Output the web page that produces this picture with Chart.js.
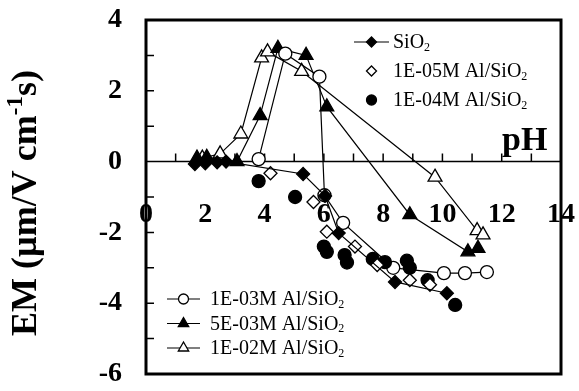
<!DOCTYPE html>
<html>
<head>
<meta charset="utf-8">
<script src="https://cdn.jsdelivr.net/npm/chart.js@4.4.0/dist/chart.umd.min.js"></script>
<style>
  html, body { margin: 0; padding: 0; background: #fff; }
  #wrap { width: 579px; height: 391px; }
</style>
</head>
<body>
<div id="wrap"><canvas id="emChart"></canvas></div>
<script>
// EM vs pH
const sio2PH = [1.65, 2.0, 2.4, 2.7, 5.3, 6.04, 6.5, 8.4, 10.15];
const sio2EM = [-0.07, -0.05, -0.02, 0.0, -0.35, -0.97, -2.02, -3.4, -3.72];

const al1e5PH = [4.2, 5.65, 6.1, 7.05, 7.8, 8.9, 9.58];
const al1e5EM = [-0.33, -1.14, -1.98, -2.4, -2.92, -3.35, -3.48];

const al1e4PH = [3.8, 5.03, 6.0, 6.1, 6.7, 6.78, 7.65, 8.06, 8.8, 8.9, 9.5, 10.43];
const al1e4EM = [-0.55, -1.0, -2.4, -2.55, -2.64, -2.85, -2.75, -2.84, -2.8, -3.0, -3.35, -4.05];

const al1e3PH = [3.8, 4.7, 5.85, 6.02, 6.65, 8.34, 10.05, 10.76, 11.5];
const al1e3EM = [0.07, 3.05, 2.4, -0.95, -1.73, -3.0, -3.15, -3.15, -3.12];

const al5e3PH = [1.72, 2.05, 3.07, 3.85, 4.45, 5.4, 6.1, 8.9, 10.86, 11.2];
const al5e3EM = [0.1, 0.12, 0.0, 1.3, 3.2, 3.0, 1.55, -1.5, -2.55, -2.45];

const al1e2PH = [1.9, 2.5, 3.2, 3.9, 4.1, 5.25, 9.75, 11.17, 11.37];
const al1e2EM = [0.1, 0.22, 0.78, 2.93, 3.1, 2.55, -0.44, -1.95, -2.07];

const seriesLabels = ['SiO2', '1E-05M Al/SiO2', '1E-04M Al/SiO2',
  '1E-03M Al/SiO2', '5E-03M Al/SiO2', '1E-02M Al/SiO2'];

const xTickValues = [0, 2, 4, 6, 8, 10, 12, 14];
const yTickValues = [-6, -4, -2, 0, 2, 4];

const serif = '"Liberation Serif", "Times New Roman", serif';

const pts = (xs, ys) => xs.map((x, i) => ({ x: x, y: ys[i] }));

function series(label, data, style, radius, fill, line) {
  return {
    label: label,
    data: data,
    showLine: line,
    borderColor: '#000',
    borderWidth: 1.2,
    pointStyle: style,
    pointRadius: radius,
    pointHoverRadius: radius,
    pointBackgroundColor: fill,
    pointBorderColor: '#000',
    pointBorderWidth: 1.3
  };
}

function drawMarker(ctx, style, r, fill, x, y) {
  ctx.beginPath();
  if (style === 'circle') {
    ctx.arc(x, y, r, 0, Math.PI * 2);
  } else if (style === 'rectRot') {
    ctx.moveTo(x - r, y);
    ctx.lineTo(x, y - r);
    ctx.lineTo(x + r, y);
    ctx.lineTo(x, y + r);
    ctx.closePath();
  } else {
    ctx.moveTo(x, y - r);
    ctx.lineTo(x + r * 0.866, y + r / 2);
    ctx.lineTo(x - r * 0.866, y + r / 2);
    ctx.closePath();
  }
  ctx.fillStyle = fill;
  ctx.fill();
  ctx.lineWidth = 1.3;
  ctx.strokeStyle = '#000';
  ctx.stroke();
}

// text with the trailing "2" as a subscript
function drawSubText(ctx, text, x, y, size, bold) {
  const main = text.slice(0, -1);
  const w = bold ? 'bold ' : '';
  ctx.font = w + size + 'px ' + serif;
  ctx.fillText(main, x, y);
  const mw = ctx.measureText(main).width;
  ctx.font = w + Math.round(size * 0.62) + 'px ' + serif;
  ctx.fillText(text.slice(-1), x + mw, y + size * 0.22);
}

const frame = {
  id: 'frame',
  beforeDatasetsDraw(chart) {
    const { ctx, chartArea: a, scales: { x, y } } = chart;
    const y0 = y.getPixelForValue(0);
    ctx.save();
    ctx.strokeStyle = '#000';
    ctx.lineWidth = 1.5;
    ctx.beginPath();
    ctx.moveTo(a.left, y0);
    ctx.lineTo(a.right, y0);
    for (let v = 1; v < 14; v++) {
      const px = x.getPixelForValue(v);
      ctx.moveTo(px, y0);
      ctx.lineTo(px, y0 - 8);
    }
    for (let v = -5; v < 4; v++) {
      const py = y.getPixelForValue(v);
      ctx.moveTo(a.left, py);
      ctx.lineTo(a.left + 8, py);
    }
    ctx.stroke();
    ctx.restore();
  },
  afterDatasetsDraw(chart) {
    const { ctx, chartArea: a } = chart;
    ctx.save();
    ctx.strokeStyle = '#000';
    ctx.lineWidth = 3;
    ctx.strokeRect(a.left, a.top, a.right - a.left, a.bottom - a.top);

    // legends, two groups
    const groups = [
      { items: [0, 1, 2], x0: 354, x1: 389, tx: 393, y: 42, dy: 29 },
      { items: [3, 4, 5], x0: 167, x1: 200, tx: 210, y: 299, dy: 24.5 }
    ];
    ctx.textBaseline = 'middle';
    ctx.textAlign = 'left';
    groups.forEach(g => {
      g.items.forEach((idx, k) => {
        const ds = chart.data.datasets[idx];
        const ly = g.y + k * g.dy;
        const mx = (g.x0 + g.x1) / 2;
        if (ds.showLine) {
          ctx.beginPath();
          ctx.lineWidth = 1.2;
          ctx.strokeStyle = '#000';
          ctx.moveTo(g.x0, ly);
          ctx.lineTo(g.x1, ly);
          ctx.stroke();
        }
        const r = ds.pointStyle === 'triangle' ? 6 : 5;
        drawMarker(ctx, ds.pointStyle, r, ds.pointBackgroundColor, mx, ly);
        ctx.fillStyle = '#000';
        drawSubText(ctx, ds.label, g.tx, ly + 1, 20, false);
      });
    });

    // axis titles
    ctx.fillStyle = '#000';
    ctx.textBaseline = 'alphabetic';
    ctx.font = 'bold 34px ' + serif;
    ctx.fillText('pH', 502, 150);

    ctx.translate(36, 203);
    ctx.rotate(-Math.PI / 2);
    const big = 'bold 36px ' + serif;
    const small = 'bold 23px ' + serif;
    const p1 = 'EM (\u00b5m/V cm', p2 = '-1', p3 = 's)';
    ctx.font = big;
    const w1 = ctx.measureText(p1).width, w3 = ctx.measureText(p3).width;
    ctx.font = small;
    const w2 = ctx.measureText(p2).width;
    let tx = -(w1 + w2 + w3) / 2;
    ctx.font = big;
    ctx.fillText(p1, tx, 0);
    tx += w1;
    ctx.font = small;
    ctx.fillText(p2, tx, -14);
    tx += w2;
    ctx.font = big;
    ctx.fillText(p3, tx, 0);
    ctx.restore();
  }
};

const noPad = s => {
  s.paddingLeft = 0;
  s.paddingRight = 0;
  s.paddingTop = 0;
  s.paddingBottom = 0;
};

new Chart(document.getElementById('emChart'), {
  type: 'scatter',
  data: {
    datasets: [
      series(seriesLabels[0], pts(sio2PH, sio2EM), 'rectRot', 6.5, '#000', true),
      series(seriesLabels[1], pts(al1e5PH, al1e5EM), 'rectRot', 6.5, '#fff', false),
      series(seriesLabels[2], pts(al1e4PH, al1e4EM), 'circle', 6.5, '#000', false),
      series(seriesLabels[3], pts(al1e3PH, al1e3EM), 'circle', 6.5, '#fff', true),
      series(seriesLabels[4], pts(al5e3PH, al5e3EM), 'triangle', 8, '#000', true),
      series(seriesLabels[5], pts(al1e2PH, al1e2EM), 'triangle', 8, '#fff', true)
    ]
  },
  options: {
    responsive: true,
    maintainAspectRatio: false,
    animation: false,
    layout: { padding: { left: 0, top: 20, right: 18, bottom: 17 } },
    plugins: {
      legend: { display: false },
      tooltip: { enabled: false }
    },
    scales: {
      x: {
        type: 'linear',
        min: 0,
        max: 14,
        position: { y: 0 },
        afterBuildTicks: s => { s.ticks = xTickValues.map(v => ({ value: v })); },
        afterFit: s => { s.height = 0; noPad(s); },
        grid: { display: false, drawTicks: false },
        border: { display: false },
        ticks: {
          color: '#000',
          padding: 36,
          maxRotation: 0,
          autoSkip: false,
          font: { family: serif, size: 28, weight: 'bold' }
        }
      },
      y: {
        type: 'linear',
        min: -6,
        max: 4,
        position: 'left',
        afterBuildTicks: s => { s.ticks = yTickValues.map(v => ({ value: v })); },
        afterFit: s => { s.width = 146; noPad(s); },
        grid: { display: false, drawTicks: false },
        border: { display: false },
        ticks: {
          color: '#000',
          padding: 24,
          font: { family: serif, size: 28, weight: 'bold' }
        }
      }
    }
  },
  plugins: [frame]
});
</script>
</body>
</html>
